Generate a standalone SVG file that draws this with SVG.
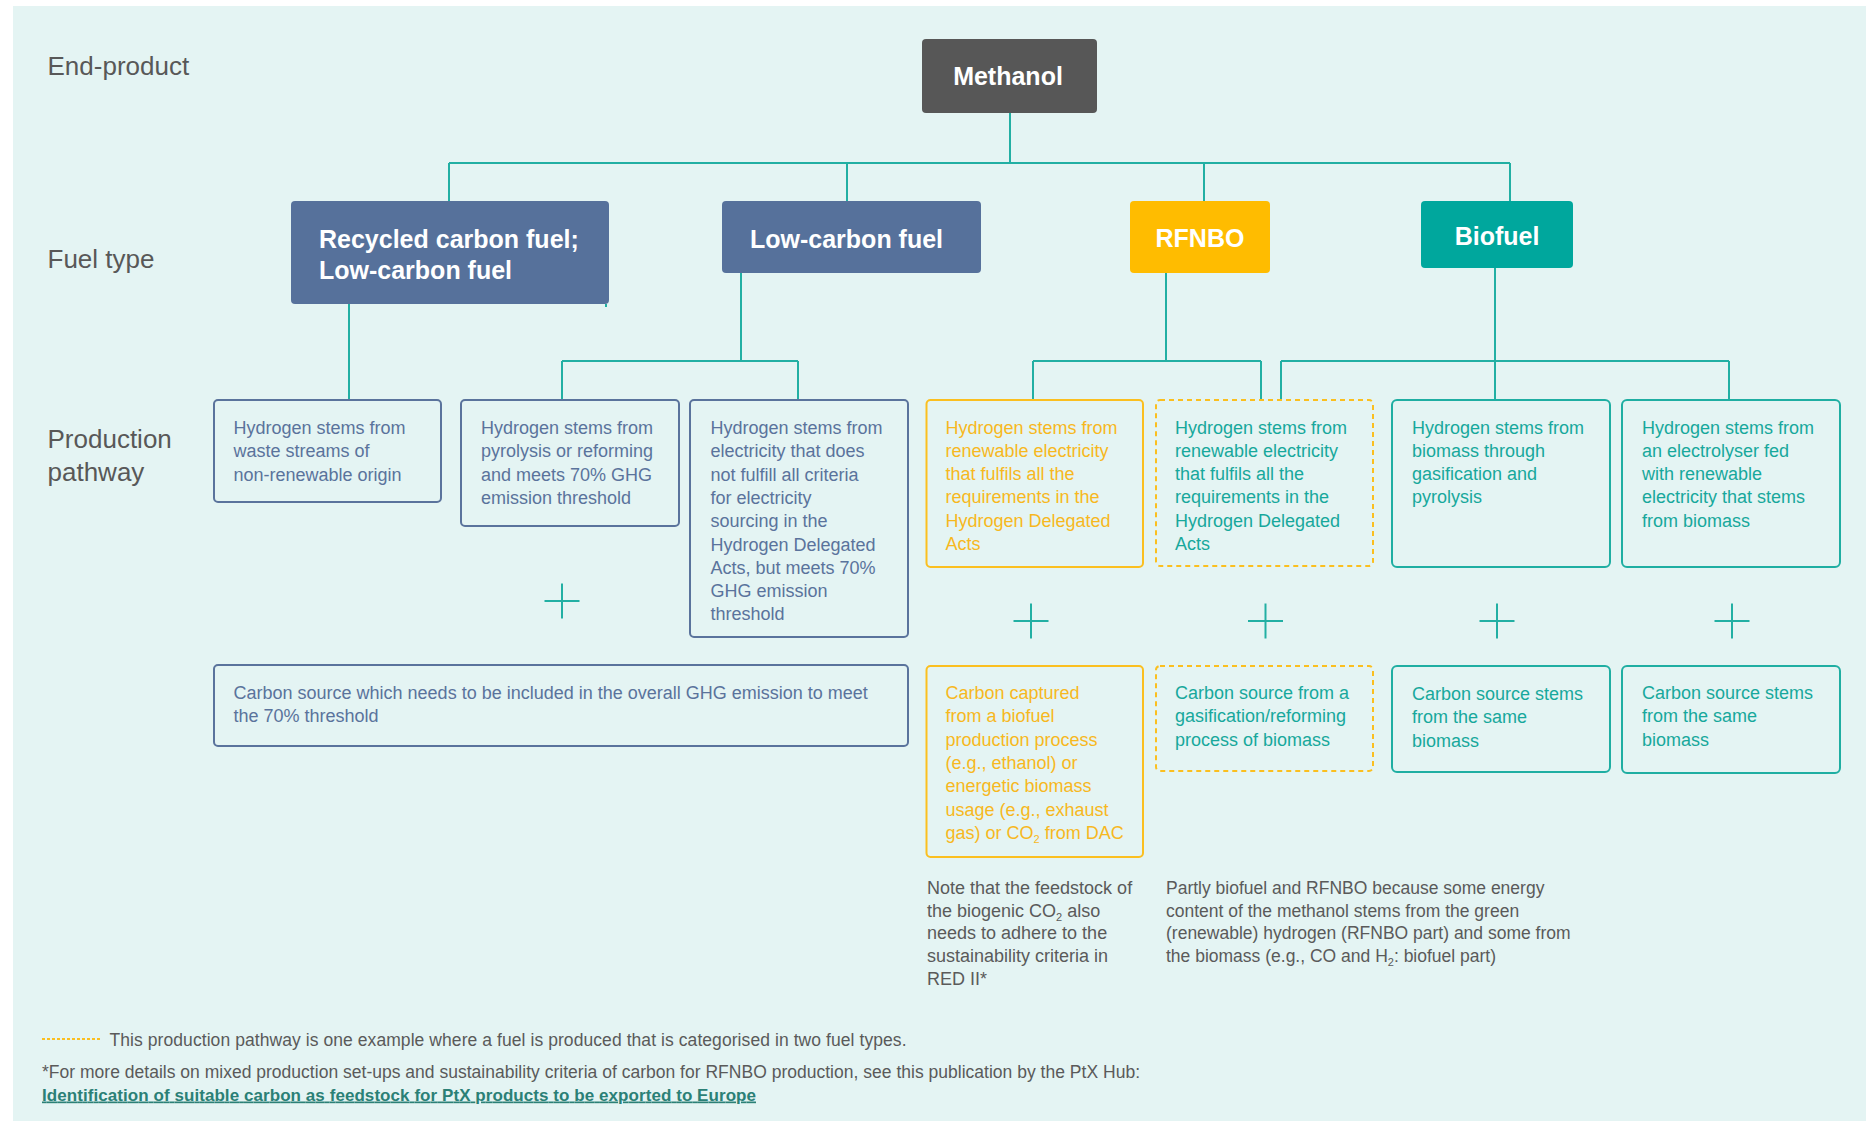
<svg xmlns="http://www.w3.org/2000/svg" width="1866" height="1121" viewBox="0 0 1866 1121">
<style>
text{font-family:"Liberation Sans",Arial,sans-serif}
.lbl{font-size:26px;fill:#585858}
.ttl{font-size:25px;font-weight:bold;fill:#ffffff}
.t{font-size:18px}
.slate{fill:#5A739C}
.yel{fill:#F7B81E}
.teal{fill:#17A89C}
.gray{fill:#5A5A5A}
.bs{fill:none;stroke:#5A739C;stroke-width:2}
.by{fill:none;stroke:#FBBF1F;stroke-width:2}
.byd{fill:none;stroke:#FBBF1F;stroke-width:2;stroke-dasharray:5 4}
.bt{fill:none;stroke:#1FAEA2;stroke-width:2}
.con{fill:none;stroke:#22AFA3;stroke-width:2}
.plus{fill:none;stroke:#22AFA3;stroke-width:2}
.foot{font-size:17.5px;fill:#5A5A5A}
</style>
<rect x="0" y="0" width="1866" height="1121" fill="#ffffff"/>
<rect x="13" y="6" width="1853" height="1115" fill="#E4F4F3"/>

<g id="row-labels">
<text class="lbl" x="47.5" y="75">End-product</text>
<text class="lbl" x="47.5" y="268">Fuel type</text>
<text class="lbl" x="47.5" y="448">Production</text>
<text class="lbl" x="47.5" y="481">pathway</text>
</g>

<g id="connectors">
<path class="con" d="M1010,113 V163 M449,163 H1510 M449,163 V201 M847,163 V201 M1204,163 V201 M1510,163 V201"/>
<path class="con" d="M349,304 V399 M606,304 V307"/>
<path class="con" d="M741,273 V361 M562,361 H798 M562,361 V399 M798,361 V399"/>
<path class="con" d="M1166,273 V361 M1033,361 H1261 M1033,361 V399 M1261,361 V399"/>
<path class="con" d="M1495,268 V399 M1281,361 H1729 M1281,361 V399 M1729,361 V399"/>
</g>

<g id="methanol">
<rect x="922" y="39" width="175" height="74" rx="4" fill="#575757"/>
<text class="ttl" x="1008" y="85" text-anchor="middle">Methanol</text>
</g>

<g id="recycled-carbon-fuel">
<rect x="291" y="201" width="318" height="103" rx="4" fill="#56719B"/>
<text class="ttl" x="319" y="248">Recycled carbon fuel;</text>
<text class="ttl" x="319" y="279">Low-carbon fuel</text>
</g>

<g id="low-carbon-fuel">
<rect x="722" y="201" width="259" height="72" rx="4" fill="#56719B"/>
<text class="ttl" x="750" y="248">Low-carbon fuel</text>
</g>

<g id="rfnbo">
<rect x="1130" y="201" width="140" height="72" rx="4" fill="#FFBC00"/>
<text class="ttl" x="1200" y="247" text-anchor="middle">RFNBO</text>
</g>

<g id="biofuel">
<rect x="1421" y="201" width="152" height="67" rx="4" fill="#00A79D"/>
<text class="ttl" x="1497" y="245" text-anchor="middle">Biofuel</text>
</g>

<g id="h2-waste">
<rect class="bs" x="214" y="400" width="227" height="102" rx="4"/>
<text class="t slate" x="233.5" y="434">Hydrogen stems from</text>
<text class="t slate" x="233.5" y="457.3">waste streams of</text>
<text class="t slate" x="233.5" y="480.6">non-renewable origin</text>
</g>

<g id="h2-pyrolysis">
<rect class="bs" x="461" y="400" width="218" height="126" rx="4"/>
<text class="t slate" x="481" y="434">Hydrogen stems from</text>
<text class="t slate" x="481" y="457.3">pyrolysis or reforming</text>
<text class="t slate" x="481" y="480.6">and meets 70% GHG</text>
<text class="t slate" x="481" y="503.9">emission threshold</text>
</g>

<g id="h2-electricity-nonrfnbo">
<rect class="bs" x="690" y="400" width="218" height="237" rx="4"/>
<text class="t slate" x="710.5" y="434">Hydrogen stems from</text>
<text class="t slate" x="710.5" y="457.3">electricity that does</text>
<text class="t slate" x="710.5" y="480.6">not fulfill all criteria</text>
<text class="t slate" x="710.5" y="503.9">for electricity</text>
<text class="t slate" x="710.5" y="527.2">sourcing in the</text>
<text class="t slate" x="710.5" y="550.5">Hydrogen Delegated</text>
<text class="t slate" x="710.5" y="573.8">Acts, but meets 70%</text>
<text class="t slate" x="710.5" y="597.1">GHG emission</text>
<text class="t slate" x="710.5" y="620.4">threshold</text>
</g>

<g id="h2-renewable-rfnbo">
<rect class="by" x="926.5" y="400" width="216.5" height="167" rx="4"/>
<text class="t yel" x="945.5" y="433.5">Hydrogen stems from</text>
<text class="t yel" x="945.5" y="456.8">renewable electricity</text>
<text class="t yel" x="945.5" y="480.1">that fulfils all the</text>
<text class="t yel" x="945.5" y="503.4">requirements in the</text>
<text class="t yel" x="945.5" y="526.7">Hydrogen Delegated</text>
<text class="t yel" x="945.5" y="550">Acts</text>
</g>

<g id="h2-renewable-mixed">
<rect class="byd" x="1156" y="400" width="217" height="166" rx="4"/>
<text class="t teal" x="1175" y="433.5">Hydrogen stems from</text>
<text class="t teal" x="1175" y="456.8">renewable electricity</text>
<text class="t teal" x="1175" y="480.1">that fulfils all the</text>
<text class="t teal" x="1175" y="503.4">requirements in the</text>
<text class="t teal" x="1175" y="526.7">Hydrogen Delegated</text>
<text class="t teal" x="1175" y="550">Acts</text>
</g>

<g id="h2-biomass">
<rect class="bt" x="1392" y="400" width="218" height="167" rx="5"/>
<text class="t teal" x="1412" y="433.5">Hydrogen stems from</text>
<text class="t teal" x="1412" y="456.8">biomass through</text>
<text class="t teal" x="1412" y="480.1">gasification and</text>
<text class="t teal" x="1412" y="503.4">pyrolysis</text>
</g>

<g id="h2-electrolyser-biomass">
<rect class="bt" x="1622" y="400" width="218" height="167" rx="5"/>
<text class="t teal" x="1642" y="433.5">Hydrogen stems from</text>
<text class="t teal" x="1642" y="456.8">an electrolyser fed</text>
<text class="t teal" x="1642" y="480.1">with renewable</text>
<text class="t teal" x="1642" y="503.4">electricity that stems</text>
<text class="t teal" x="1642" y="526.7">from biomass</text>
</g>

<g id="plus-signs">
<path class="plus" d="M562,583.5 V618.5 M544.5,601 H579.5"/>
<path class="plus" d="M1031,603.5 V638.5 M1013.5,621 H1048.5"/>
<path class="plus" d="M1265.5,603.5 V638.5 M1248,621 H1283"/>
<path class="plus" d="M1497,603.5 V638.5 M1479.5,621 H1514.5"/>
<path class="plus" d="M1732,603.5 V638.5 M1714.5,621 H1749.5"/>
</g>

<g id="carbon-ghg">
<rect class="bs" x="214" y="665" width="694" height="81" rx="4"/>
<text class="t slate" x="233.5" y="699">Carbon source which needs to be included in the overall GHG emission to meet</text>
<text class="t slate" x="233.5" y="722.3">the 70% threshold</text>
</g>

<g id="carbon-captured">
<rect class="by" x="926.5" y="666" width="216.5" height="191" rx="4"/>
<text class="t yel" x="945.5" y="699">Carbon captured</text>
<text class="t yel" x="945.5" y="722.3">from a  biofuel</text>
<text class="t yel" x="945.5" y="745.6">production process</text>
<text class="t yel" x="945.5" y="768.9">(e.g., ethanol) or</text>
<text class="t yel" x="945.5" y="792.2">energetic biomass</text>
<text class="t yel" x="945.5" y="815.5">usage (e.g., exhaust</text>
<text class="t yel" x="945.5" y="838.8">gas) or CO<tspan font-size="11" dy="4">2</tspan><tspan dy="-4"> from DAC</tspan></text>
</g>

<g id="carbon-gasification">
<rect class="byd" x="1156" y="666" width="217" height="105" rx="4"/>
<text class="t teal" x="1175" y="699">Carbon source from a</text>
<text class="t teal" x="1175" y="722.3">gasification/reforming</text>
<text class="t teal" x="1175" y="745.6">process of biomass</text>
</g>

<g id="carbon-same-biomass-1">
<rect class="bt" x="1392" y="666" width="218" height="106" rx="5"/>
<text class="t teal" x="1412" y="700">Carbon source stems</text>
<text class="t teal" x="1412" y="723.3">from the same</text>
<text class="t teal" x="1412" y="746.6">biomass</text>
</g>

<g id="carbon-same-biomass-2">
<rect class="bt" x="1622" y="666" width="218" height="107" rx="5"/>
<text class="t teal" x="1642" y="699">Carbon source stems</text>
<text class="t teal" x="1642" y="722.3">from the same</text>
<text class="t teal" x="1642" y="745.6">biomass</text>
</g>

<g id="notes">
<text class="t gray" x="927" y="894">Note that the feedstock of</text>
<text class="t gray" x="927" y="916.7">the biogenic CO<tspan font-size="11" dy="4">2</tspan><tspan dy="-4"> also</tspan></text>
<text class="t gray" x="927" y="939.4">needs to adhere to the</text>
<text class="t gray" x="927" y="962.1">sustainability criteria in</text>
<text class="t gray" x="927" y="984.8">RED II*</text>
<text class="gray" font-size="17.5" x="1166" y="894">Partly biofuel and RFNBO because some energy</text>
<text class="gray" font-size="17.5" x="1166" y="916.7">content of the methanol stems from the green</text>
<text class="gray" font-size="17.5" x="1166" y="939.4">(renewable) hydrogen (RFNBO part) and some from</text>
<text class="gray" font-size="17.5" x="1166" y="962.1">the biomass (e.g., CO and H<tspan font-size="11" dy="4">2</tspan><tspan dy="-4">: biofuel part)</tspan></text>
</g>

<g id="footer">
<line x1="42" y1="1039" x2="100" y2="1039" stroke="#FBBF1F" stroke-width="2" stroke-dasharray="3 2"/>
<text class="foot" x="109.5" y="1045.5" textLength="797" lengthAdjust="spacing">This production pathway is one example where a fuel is produced that is categorised in two fuel types.</text>
<text class="foot" x="42" y="1077.5" textLength="1098" lengthAdjust="spacing">*For more details on mixed production set-ups and sustainability criteria of carbon for RFNBO production, see this publication by the PtX Hub:</text>
<text x="42" y="1100.5" font-size="17" font-weight="bold" fill="#2B8076" text-decoration="underline" textLength="714" lengthAdjust="spacing">Identification of suitable carbon as feedstock for PtX products to be exported to Europe</text>
</g>
</svg>
